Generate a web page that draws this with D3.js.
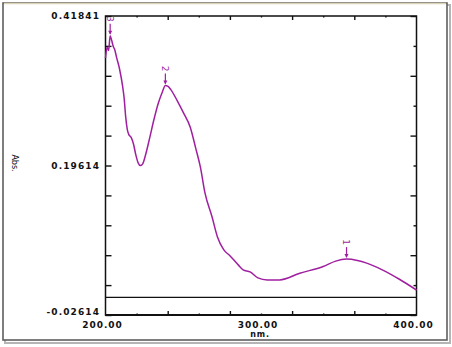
<!DOCTYPE html>
<html lang="en">
  <head>
    <meta charset="utf-8">
    <title>UV spectrum</title>
    <script src="https://d3js.org/d3.v7.js"></script>
    <style>
      body { margin: 0; background: white; }
      text { font-family: "DejaVu Sans", sans-serif; font-weight: bold; fill: #111; }
    </style>
  </head>
  <body>
    <script>
      // spectrum: wavelength (nm) and absorbance
      const wavelengths = [200, 201, 202, 203, 204, 205, 206, 207, 209, 211, 212, 213, 214, 215, 216.5, 218, 219.5, 221, 222.5,
                           224, 226, 228.5, 231, 234, 236.5, 238.5, 240, 242, 246, 250, 254.5, 258, 261, 264, 268.5, 272,
                           276, 280, 285.5, 288.5, 293, 298, 304, 312, 325, 340, 348, 355, 362, 368, 378, 389, 400];
      const absorbance  = [0.356, 0.372, 0.367, 0.389, 0.382, 0.373, 0.368, 0.358, 0.340, 0.314, 0.296, 0.268, 0.250, 0.242, 0.238,
                           0.228, 0.212, 0.200, 0.196, 0.199, 0.214, 0.238, 0.263, 0.289, 0.305, 0.315, 0.314, 0.309, 0.293,
                           0.275, 0.253, 0.222, 0.194, 0.155, 0.120, 0.090, 0.071, 0.062, 0.048, 0.041, 0.038, 0.029, 0.026,
                           0.026, 0.036, 0.046, 0.054, 0.057, 0.055, 0.051, 0.041, 0.027, 0.011];

      // peak picks
      const peakLabels = ["3", "2", "1"];
      const peakNm = [203, 238.5, 355];
      const peakAbs = [0.389, 0.315, 0.057];

      // axis labels
      const yTickLabels = ["-0.02614", "0.19614", "0.41841"];
      const xTickLabels = ["200.00", "300.00", "400.00"];
      const xTickValues = [200, 300, 400];

      const w = 452;
      const h = 347;
      const plot = {left: 105.5, right: 416.5, top: 16, bottom: 315};
      const curveColor = "#a01fa0";

      const yMin = +yTickLabels[0];
      const yMax = +yTickLabels[2];

      const xScale = d3.scaleLinear()
                       .domain([200, 400])
                       .range([plot.left, plot.right]);

      const yScale = d3.scaleLinear()
                       .domain([yMin, yMax])
                       .range([plot.bottom, plot.top]);

      const svg = d3.select("body")
                    .append("svg")
                    .attr("width", w)
                    .attr("height", h);

      svg.append("rect")
         .attr("width", w)
         .attr("height", h)
         .attr("fill", "white");

      // outer frame with its shadow
      svg.append("rect")
         .attr("x", 5).attr("y", 5)
         .attr("width", 445).attr("height", 338)
         .attr("fill", "none")
         .attr("stroke", "#b5b5b5")
         .attr("stroke-width", 2);

      svg.append("rect")
         .attr("x", 3).attr("y", 3)
         .attr("width", 444).attr("height", 337)
         .attr("fill", "white")
         .attr("stroke", "#5e5e5e")
         .attr("stroke-width", 1.6);

      svg.append("line")
         .attr("x1", 4).attr("x2", 446)
         .attr("y1", 3.5).attr("y2", 3.5)
         .attr("stroke", "#d9d4b8")
         .attr("stroke-width", 1.5);

      // ticks: y every tenth of the range, x every 20 nm
      const yTicks = d3.range(0, 11).map(i => yMin + i * (yMax - yMin) / 10);
      const xTicks = d3.range(220, 400, 20);

      const axes = svg.append("g");

      axes.append("g")
          .attr("transform", `translate(${plot.left},0)`)
          .call(d3.axisRight(yScale).tickValues(yTicks).tickSize(6).tickFormat(""))
          .call(g => g.select(".domain").remove());

      axes.append("g")
          .attr("transform", `translate(${plot.right},0)`)
          .call(d3.axisLeft(yScale).tickValues(yTicks).tickSize(0).tickFormat(""))
          .call(g => g.select(".domain").remove())
          .selectAll(".tick line")
          .attr("x2", (d, i) => i % 2 === 0 ? -6 : -3);

      axes.append("g")
          .attr("transform", `translate(0,${plot.bottom})`)
          .call(d3.axisTop(xScale).tickValues(xTicks).tickSize(0).tickFormat(""))
          .call(g => g.select(".domain").remove())
          .selectAll(".tick line")
          .attr("y2", d => d % 40 === 0 ? -4 : -1.5);

      axes.append("g")
          .attr("transform", `translate(0,${plot.top})`)
          .call(d3.axisBottom(xScale).tickValues(xTicks).tickSize(0).tickFormat(""))
          .call(g => g.select(".domain").remove())
          .selectAll(".tick line")
          .attr("y2", d => d % 40 === 0 ? 4 : 1.5);

      axes.selectAll(".tick line").attr("stroke", "#111").attr("stroke-width", 1.4);

      // zero line
      svg.append("line")
         .attr("x1", plot.left).attr("x2", plot.right)
         .attr("y1", yScale(0)).attr("y2", yScale(0))
         .attr("stroke", "#111")
         .attr("stroke-width", 1.2);

      // plot box
      svg.append("rect")
         .attr("x", plot.left).attr("y", plot.top)
         .attr("width", plot.right - plot.left)
         .attr("height", plot.bottom - plot.top)
         .attr("fill", "none")
         .attr("stroke", "#111")
         .attr("stroke-width", 1.5);

      svg.append("line")
         .attr("x1", plot.left).attr("x2", plot.right)
         .attr("y1", plot.bottom).attr("y2", plot.bottom)
         .attr("stroke", "#111")
         .attr("stroke-width", 2);

      // curve
      const points = wavelengths.map((d, i) => ({nm: d, abs: absorbance[i]}));

      const line = d3.line()
                     .x(d => xScale(d.nm))
                     .y(d => yScale(d.abs))
                     .curve(d3.curveMonotoneX);

      svg.append("path")
         .datum(points)
         .attr("d", line)
         .attr("fill", "none")
         .attr("stroke", curveColor)
         .attr("stroke-width", 1.5);

      // peak markers
      const peaks = svg.append("g")
                       .selectAll("g")
                       .data(peakLabels)
                       .enter().append("g")
                       .attr("transform", (d, i) => `translate(${xScale(peakNm[i])},${yScale(peakAbs[i])})`);

      peaks.append("line")
           .attr("y1", -12).attr("y2", -2)
           .attr("stroke", curveColor)
           .attr("stroke-width", 1.2);

      peaks.append("path")
           .attr("d", "M-2,-5 L2,-5 L0,-1 Z")
           .attr("fill", curveColor);

      peaks.append("text")
           .attr("transform", "translate(0,-17) rotate(90)")
           .attr("text-anchor", "middle")
           .attr("dy", "0.35em")
           .attr("font-size", 9)
           .style("font-weight", "normal")
           .style("fill", curveColor)
           .text(d => d);

      // tick labels
      svg.append("g")
         .selectAll("text")
         .data(yTickLabels)
         .enter().append("text")
         .attr("x", 100)
         .attr("y", (d, i) => i === 0 ? yScale(+d) - 3 : yScale(+d))
         .attr("dy", "0.35em")
         .attr("text-anchor", "end")
         .attr("font-size", 9)
         .attr("letter-spacing", 1.1)
         .text(d => d);

      svg.append("g")
         .selectAll("text")
         .data(xTickLabels)
         .enter().append("text")
         .attr("x", (d, i) => xScale(xTickValues[i]) - 3)
         .attr("y", 325)
         .attr("dy", "0.35em")
         .attr("text-anchor", "middle")
         .attr("font-size", 9)
         .attr("letter-spacing", 1)
         .text(d => d);

      svg.append("text")
         .attr("x", xScale(300) - 1)
         .attr("y", 334)
         .attr("dy", "0.35em")
         .attr("text-anchor", "middle")
         .attr("font-size", 8)
         .attr("letter-spacing", 0.8)
         .text("nm.");

      svg.append("text")
         .attr("transform", "translate(15,163) rotate(90)")
         .attr("text-anchor", "middle")
         .attr("dy", "0.35em")
         .attr("font-size", 8)
         .style("font-weight", "normal")
         .text("Abs.");
    </script>
  </body>
</html>
